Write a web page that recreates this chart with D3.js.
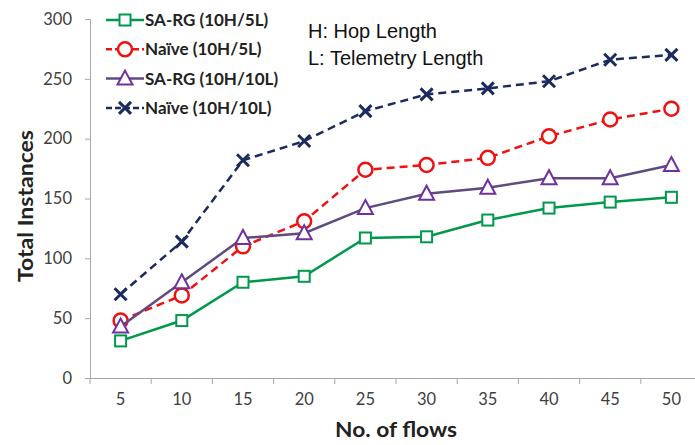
<!DOCTYPE html>
<html><head><meta charset="utf-8">
<script src="https://cdn.jsdelivr.net/npm/d3@7"></script>
<style>body{margin:0;background:#fff}svg{display:block}</style>
</head><body>
<svg id="c" width="695" height="445"></svg>
<script>
const flows = [5,10,15,20,25,30,35,40,45,50];
const sargA = [31,48,80,85,117,118,132,142,147,151];
const naiveA = [48,69,110,131,174,178,184,202,216,225];
const sargB = [43,80,117,121,142,154,159,167,167,178];
const naiveB = [70,114,182,198,223,237,242,248,266,270];
const yTicks = [0,50,100,150,200,250,300];
const seriesNames = ["SA-RG (10H/5L)","Naïve (10H/5L)","SA-RG (10H/10L)","Naïve (10H/10L)"];

const series = [
  {name:seriesNames[0], vals:sargA, line:"#00994c", mark:"#00994c", dash:null, sym:"square"},
  {name:seriesNames[1], vals:naiveA, line:"#ee1111", mark:"#ee1111", dash:"8,5", sym:"circle"},
  {name:seriesNames[2], vals:sargB, line:"#5e4b80", mark:"#7030a0", dash:null, sym:"triangle"},
  {name:seriesNames[3], vals:naiveB, line:"#1c2b5e", mark:"#1c2b5e", dash:"8,5", sym:"x"}
];

const svg = d3.select("#c");
const x = d3.scaleBand().domain(flows).range([90,702]);
const y = d3.scaleLinear().domain([0,300]).range([378,19]);
const font = "Lato, 'Open Sans', sans-serif";

// y axis
const ya = svg.append("g").attr("transform","translate(90,0)")
  .call(d3.axisLeft(y).tickValues(yTicks).tickSize(5).tickPadding(13));
ya.select(".domain").attr("stroke","#a6a6a6");
ya.selectAll(".tick line").attr("stroke","#a6a6a6");
ya.selectAll(".tick text").attr("font-family",font).attr("font-size",16.5).attr("fill","#404040");

// x axis
const xa = svg.append("g").attr("transform","translate(0,378)")
  .call(d3.axisBottom(x).tickSize(0).tickPadding(15));
xa.select(".domain").attr("stroke","#a6a6a6");
xa.selectAll(".tick text").attr("font-family",font).attr("font-size",16.5).attr("fill","#404040");
xa.selectAll("line.bnd").data(flows).enter().append("line")
  .attr("x1",d=>x(d)).attr("x2",d=>x(d)).attr("y1",0).attr("y2",6).attr("stroke","#a6a6a6");

// labels
svg.append("text").attr("x",396).attr("y",437).attr("text-anchor","middle")
  .attr("font-family",font).attr("font-weight","bold").attr("font-size",21).attr("fill","#222")
  .attr("textLength",122).attr("lengthAdjust","spacingAndGlyphs")
  .text("No. of flows");
svg.append("text").attr("transform","translate(33,206) rotate(-90)").attr("text-anchor","middle")
  .attr("font-family",font).attr("font-weight","bold").attr("font-size",20).attr("fill","#222")
  .attr("textLength",152).attr("lengthAdjust","spacingAndGlyphs")
  .text("Total Instances");

function drawMarker(g, sym, color, cx, cy){
  if(sym==="square"){
    g.append("rect").attr("x",cx-5.5).attr("y",cy-5.5).attr("width",11).attr("height",11)
      .attr("fill","#fff").attr("stroke",color).attr("stroke-width",2);
  } else if(sym==="circle"){
    g.append("circle").attr("cx",cx).attr("cy",cy).attr("r",7)
      .attr("fill","#fff").attr("stroke",color).attr("stroke-width",2.5);
  } else if(sym==="triangle"){
    g.append("path").attr("d",`M${cx},${cy-8}L${cx+7.5},${cy+6}L${cx-7.5},${cy+6}Z`)
      .attr("fill","#fff").attr("stroke",color).attr("stroke-width",2);
  } else {
    g.append("path").attr("d",`M${cx-6},${cy-6}L${cx+6},${cy+6}M${cx-6},${cy+6}L${cx+6},${cy-6}`)
      .attr("stroke",color).attr("stroke-width",3).attr("fill","none");
  }
}

const line = d3.line().x((d,i)=>x(flows[i])+x.bandwidth()/2).y(d=>y(d));
series.forEach(s=>{
  const g = svg.append("g");
  g.append("path").attr("d",line(s.vals)).attr("fill","none").attr("stroke",s.line)
    .attr("stroke-width",2.5).attr("stroke-dasharray",s.dash);
  s.vals.forEach((v,i)=>drawMarker(g,s.sym,s.mark,x(flows[i])+x.bandwidth()/2,y(v)));
});

// legend
const lg = svg.append("g");
series.forEach((s,i)=>{
  const ly = 20 + i*29.3;
  lg.append("line").attr("x1",106).attr("x2",144).attr("y1",ly).attr("y2",ly)
    .attr("stroke",s.line).attr("stroke-width",2.5).attr("stroke-dasharray",s.dash?"6,3":null);
  drawMarker(lg,s.sym,s.mark,125,ly);
  lg.append("text").attr("x",145).attr("y",ly+6).attr("font-family",font).attr("font-weight","bold")
    .attr("font-size",17).attr("fill","#222").text(s.name);
});

svg.append("text").attr("x",308).attr("y",38).attr("font-family","'Liberation Sans', Arial, sans-serif")
  .attr("font-size",20).attr("fill","#111").text("H: Hop Length");
svg.append("text").attr("x",308).attr("y",65).attr("font-family","'Liberation Sans', Arial, sans-serif")
  .attr("font-size",20).attr("fill","#111").text("L: Telemetry Length");
</script>
</body></html>
